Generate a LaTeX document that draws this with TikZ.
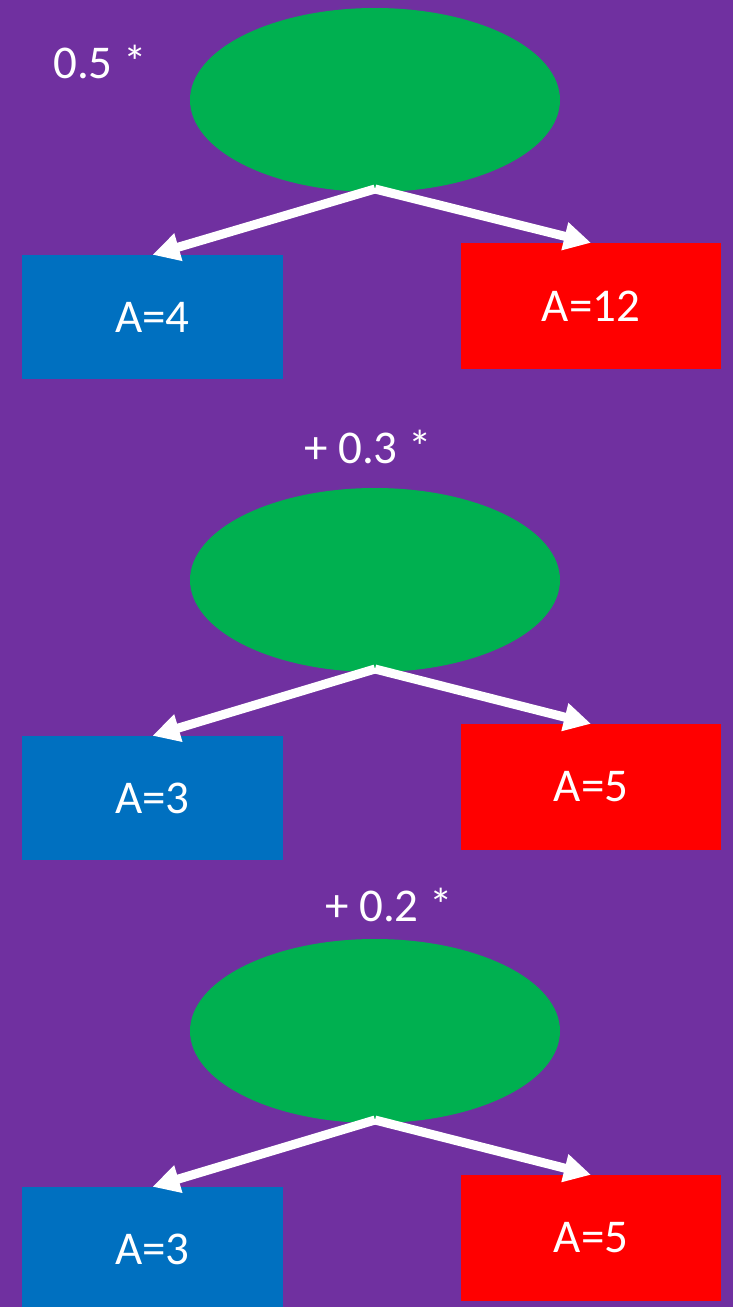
\documentclass[tikz,border=0pt]{standalone}
\usepackage{fontspec}
\setmainfont{Carlito}
\usetikzlibrary{shapes.geometric,arrows.meta}
\definecolor{bgpurple}{HTML}{7030A0}
\definecolor{leafgreen}{HTML}{00B050}
\definecolor{leftblue}{HTML}{0070C0}
\definecolor{rightred}{HTML}{FF0000}
\tikzset{
  splitnode/.style={ellipse, fill=leafgreen, minimum width=370pt, minimum height=184pt, inner sep=0pt},
  leftleaf/.style={rectangle, fill=leftblue, minimum width=261pt, minimum height=124pt, inner sep=0pt,
    text=white, font=\fontsize{47}{56}\selectfont},
  rightleaf/.style={rectangle, fill=rightred, minimum width=260pt, minimum height=126pt, inner sep=0pt,
    text=white, font=\fontsize{47}{56}\selectfont},
  weight/.style={text=white, inner sep=0pt, font=\fontsize{47}{56}\selectfont},
  branch/.style={draw=white, line width=9pt, -{Triangle[length=27pt,width=27pt]}}
}
\begin{document}
\begin{tikzpicture}[x=1pt,y=-1pt]
  % page and background
  \fill[bgpurple] (0,0) rectangle (733,1307);
  \useasboundingbox (0,0) rectangle (733,1307);

  % first tree
  \node[weight] (w1) at (100,62) {0.5 *};
  \node[splitnode] (e1) at (375,100) {};
  \node[leftleaf] (b1) at (152.5,317) {A=4};
  \node[rightleaf] (r1) at (591,306) {A=12};
  \coordinate (s1) at (375,189);
  \draw[branch] (s1) -- (b1.north);
  \draw[branch] (s1) -- (r1.north);

  % second tree
  \node[weight] (w2) at (368,447) {+ 0.3 *};
  \node[splitnode] (e2) at (375,580) {};
  \node[leftleaf] (b2) at (152.5,798) {A=3};
  \node[rightleaf] (r2) at (591,787) {A=5};
  \coordinate (s2) at (375,669);
  \draw[branch] (s2) -- (b2.north);
  \draw[branch] (s2) -- (r2.north);

  % third tree (bottom box runs past the page edge)
  \node[weight] (w3) at (389,905) {+ 0.2 *};
  \node[splitnode] (e3) at (375,1031) {};
  \begin{scope}
    \clip (0,0) rectangle (733,1307);
    \node[leftleaf] (b3) at (152.5,1249) {A=3};
  \end{scope}
  \node[rightleaf] (r3) at (591,1238) {A=5};
  \coordinate (s3) at (375,1120);
  \draw[branch] (s3) -- (b3.north);
  \draw[branch] (s3) -- (r3.north);
\end{tikzpicture}
\end{document}
